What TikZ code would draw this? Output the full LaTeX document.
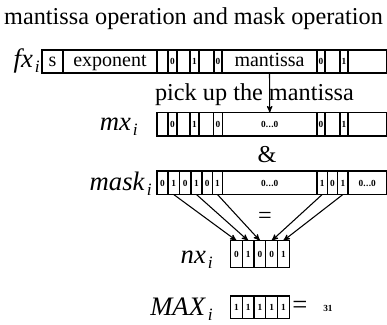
\documentclass[tikz,border=0pt]{standalone}
\usepackage{fontspec}
\setmainfont{Liberation Serif}
\usepgflibrary{arrows}
\tikzstyle{arr}=[->,>=stealth',line width=0.8pt]
\tikzstyle{cell}=[draw,rectangle,inner sep=0pt,outer sep=0pt,line width=0.9pt,
  text height=4.8pt,text depth=0pt,font=\fontsize{7}{7}\selectfont\bfseries]
\tikzstyle{lbl}=[anchor=base east,inner sep=0pt,font=\fontsize{20}{20}\selectfont]
\tikzstyle{txt}=[inner sep=0pt,font=\fontsize{18.2}{18.2}\selectfont]
\newcommand\bigtxt[1]{\raisebox{-1.4pt}{\fontsize{15}{15}\selectfont\mdseries #1}}
\newcommand\lab[2]{\textit{#1}\kern1.5pt\raisebox{-0.22em}{\fontsize{13}{13}\selectfont\itshape #2}}
\newcommand\zeros{0.\kern0.3pt.\kern0.3pt.0}% the foreach lists do not take dots

\begin{document}
\begin{tikzpicture}[x=0.75pt,y=-0.75pt]
  \useasboundingbox (0,0) rectangle (387,325);
  \node[txt,anchor=base] (title) at (193.5,24) {mantissa operation and mask operation};

  % the float: sign, exponent, mantissa
  \foreach \n/\a/\b/\t in {1/42/63/\bigtxt{s}, 2/63/157/\bigtxt{exponent}, 3/157/168/{},
      4/168/177/0, 5/177/190/{}, 6/190/199/1, 7/199/214/{}, 8/214/222/0,
      9/222/317/\bigtxt{mantissa}, 10/317/325/0, 11/325/340/{}, 12/340/348/1, 13/348/386.5/{}}
    \node[cell,minimum height=23*0.75pt,minimum width={(\b-\a)*0.75pt}] (fx\n) at ({(\a+\b)/2},61.5) {\t};
  \node[lbl] (fxl) at (40,67) {\lab{fx}{i}};

  \node[txt,anchor=base] (pick) at (254.5,100) {pick up the mantissa};

  % mantissa only
  \foreach \n/\a/\b/\t in {1/157/168/{}, 2/168/177/0, 3/177/190/{}, 4/190/199/1, 5/199/213.5/{},
      6/213.5/222.5/0, 7/222.5/317/\zeros, 8/317/325/0, 9/325/340/{}, 10/340/348/1, 11/348/386.5/{}}
    \node[cell,minimum height=23.3*0.75pt,minimum width={(\b-\a)*0.75pt}] (mx\n) at ({(\a+\b)/2},124.3) {\t};
  \node[lbl] (mxl) at (138,130) {\lab{mx}{i}};
  \draw[arr] (fx9.south) -- (mx7.north);

  \node[txt,anchor=base] (amp) at (267,162) {\&};

  % mask
  \foreach \n/\a/\b/\t in {1/157/168/0, 2/168/179.5/1, 3/179.5/191/0, 4/191/202/1, 5/202/212.5/0,
      6/212.5/222.5/1, 7/222.5/317/\zeros, 8/317/327.3/1, 9/327.3/337.7/0, 10/337.7/348/1,
      11/348/386.5/\zeros}
    \node[cell,minimum height=23.5*0.75pt,minimum width={(\b-\a)*0.75pt}] (mk\n) at ({(\a+\b)/2},182.8) {\t};
  \node[lbl] (mkl) at (152,190) {\lab{mask}{i}};

  \node[txt] (eq) at (265,218) {=};

  % result
  \foreach \n/\t in {1/0, 2/1, 3/0, 4/0, 5/1}
    \node[cell,minimum height=26.6*0.75pt,minimum width=11.7*0.75pt] (nx\n) at ({224.85+11.7*\n},254) {\t};
  \node[lbl] (nxl) at (213,263) {\lab{nx}{i}};

  \foreach \i/\j in {2/1, 4/2, 6/3, 8/4, 10/5}
    \draw[arr] (mk\i.south) -- (nx\j.north);

  % largest value
  \foreach \n in {1,...,5}
    \node[cell,minimum height=22.3*0.75pt,minimum width=11.7*0.75pt] (max\n) at ({224.85+11.7*\n},307.2) {1};
  \node[lbl] (maxl) at (213,315) {\lab{MAX}{i}};
  \node[txt,font=\fontsize{20}{20}\selectfont] (eq2) at (300,307) {=};
  \node[font=\fontsize{7}{7}\selectfont\bfseries] (val) at (328,308) {31};
\end{tikzpicture}
\end{document}
